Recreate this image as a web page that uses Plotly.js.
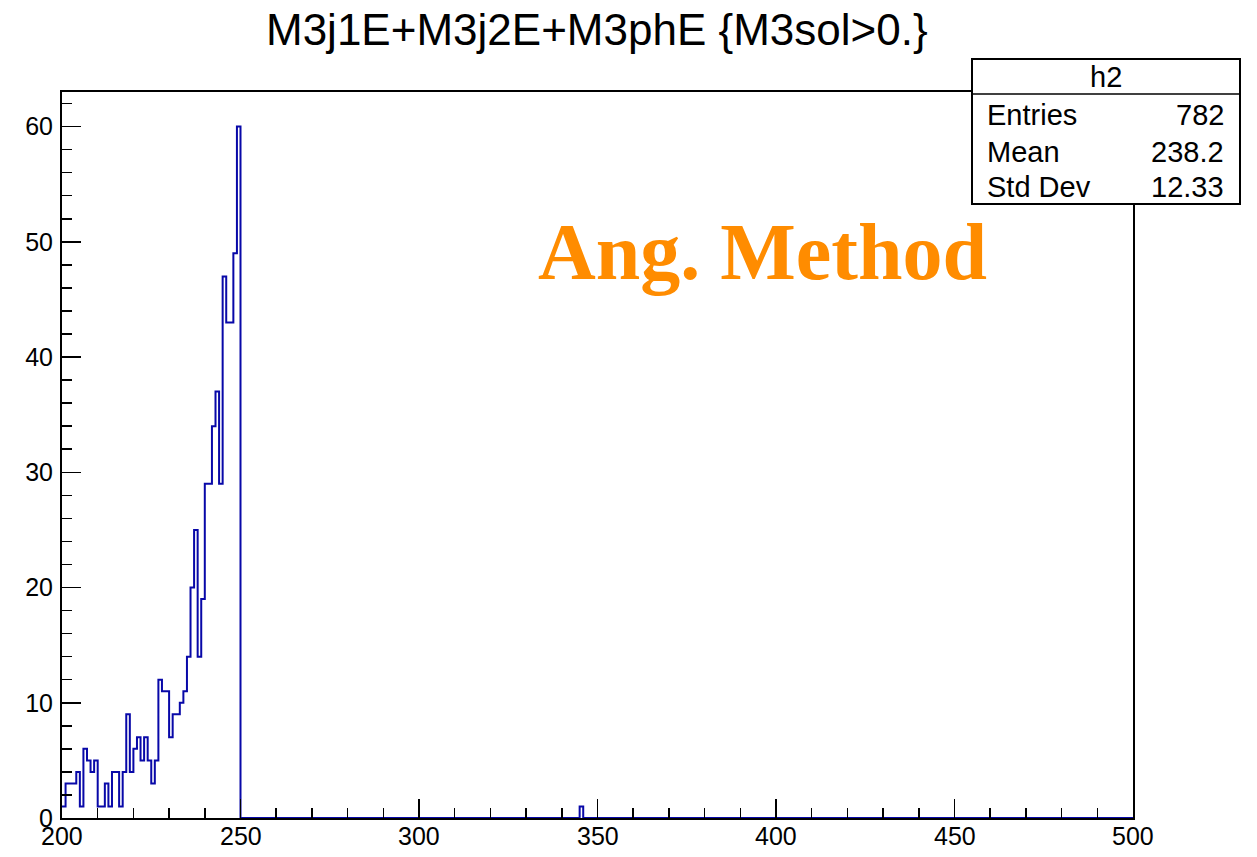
<!DOCTYPE html>
<html>
<head>
<meta charset="utf-8">
<script src="https://cdn.plot.ly/plotly-3.0.1.min.js"></script>
<style>html,body{margin:0;padding:0;background:#fff;}#chart{width:1257px;height:857px;}</style>
</head>
<body>
<div id="chart"></div>
<script>
// Histogram h2: 1-unit bins, x from 200 to 500
const binLow = 200;
const binHigh = 500;
// bin contents for bins starting at 200, 201, ..., 249
const counts200to249 = [
  1, 3, 3, 3, 4, 1, 6, 5, 4, 5,
  1, 1, 3, 1, 4, 4, 1, 4, 9, 4,
  6, 7, 5, 7, 5, 3, 5, 12, 11, 11,
  7, 9, 9, 10, 11, 14, 20, 25, 14, 19,
  29, 29, 34, 37, 29, 47, 43, 43, 49, 60
];
// isolated non-empty bins further right
const extraBinStarts = [345];
const extraBinCounts = [1];

const titleText = "M3j1E+M3j2E+M3phE {M3sol>0.}";
const statsName = "h2";
const statsLabels = ["Entries", "Mean", "Std Dev"];
const statsValues = ["782", "238.2", "12.33"];
const labelText = "Ang. Method";
const xTickValues = [200, 250, 300, 350, 400, 450, 500];

// build the step outline (bin edges + contents)
const nBins = binHigh - binLow;
const contents = new Array(nBins).fill(0);
counts200to249.forEach((c, i) => { contents[i] = c; });
extraBinStarts.forEach((s, i) => { contents[s - binLow] = extraBinCounts[i]; });
const edges = [];
const ys = [];
for (let i = 0; i <= nBins; i++) {
  edges.push(binLow + i);
  ys.push(i < nBins ? contents[i] : contents[nBins - 1]);
}

const trace = {
  type: 'scatter', mode: 'lines',
  x: edges, y: ys,
  line: {shape: 'hv', color: '#0808a8', width: 2},
  hoverinfo: 'skip'
};

const L = 62, R = 1133, T = 92, B = 818;
const W = 1257, H = 857;
const px = v => (v - L) / (R - L);
const py = v => (B - v) / (B - T);

const font = 'Liberation Sans, Arial, Helvetica, sans-serif';

const boxL = 972, boxR = 1240, boxT = 59, boxB = 204, boxSep = 94;

const annotations = [
  {text: titleText, xref: 'paper', yref: 'paper', x: px(597), y: py(30), xanchor: 'center', yanchor: 'middle', showarrow: false, font: {family: font, size: 44, color: '#000'}},
  {text: statsName, xref: 'paper', yref: 'paper', x: px((boxL + boxR) / 2), y: py(77), xanchor: 'center', yanchor: 'middle', showarrow: false, font: {family: font, size: 29, color: '#000'}},
  {text: '<b>' + labelText + '</b>', xref: 'paper', yref: 'paper', x: px(762), y: py(252), xanchor: 'center', yanchor: 'middle', showarrow: false, font: {family: 'Liberation Serif, Times New Roman, serif', size: 80, color: '#ff8c00'}}
];
const rowY = [115, 152, 187];
statsLabels.forEach((lab, i) => {
  annotations.push({text: lab, xref: 'paper', yref: 'paper', x: px(985), y: py(rowY[i]), xanchor: 'left', yanchor: 'middle', showarrow: false, font: {family: font, size: 29, color: '#000'}});
  annotations.push({text: statsValues[i], xref: 'paper', yref: 'paper', x: px(1226), y: py(rowY[i]), xanchor: 'right', yanchor: 'middle', showarrow: false, font: {family: font, size: 29, color: '#000'}});
});
// x tick labels placed via the x axis scale
xTickValues.forEach(v => {
  annotations.push({text: String(v), xref: 'x', yref: 'paper', x: v, y: py(836), xanchor: 'center', yanchor: 'middle', showarrow: false, font: {family: font, size: 25, color: '#000'}});
});

const shapes = [
  {type: 'rect', xref: 'paper', yref: 'paper', x0: px(boxL), x1: px(boxR), y0: py(boxB), y1: py(boxT), fillcolor: '#fff', line: {color: '#000', width: 2}, layer: 'above'},
  {type: 'line', xref: 'paper', yref: 'paper', x0: px(boxL), x1: px(boxR), y0: py(boxSep), y1: py(boxSep), line: {color: '#000', width: 1.5}, layer: 'above'}
];

const layout = {
  width: W, height: H, autosize: false,
  margin: {l: L, r: W - R, t: T, b: H - B, pad: 0},
  paper_bgcolor: '#fff', plot_bgcolor: '#fff',
  showlegend: false,
  xaxis: {
    range: [binLow, binHigh], tickmode: 'linear', tick0: 200, dtick: 50,
    ticks: 'inside', ticklen: 19, tickwidth: 1.5, tickcolor: '#000',
    minor: {dtick: 10, ticks: 'inside', ticklen: 10, tickwidth: 1.5, tickcolor: '#000', showgrid: false},
    showline: true, linecolor: '#000', linewidth: 2, mirror: true,
    showgrid: false, zeroline: false, showticklabels: false
  },
  yaxis: {
    range: [0, 63], tickmode: 'linear', tick0: 0, dtick: 10,
    ticks: 'inside', ticklen: 19, tickwidth: 1.5, tickcolor: '#000',
    minor: {dtick: 2, ticks: 'inside', ticklen: 10, tickwidth: 1.5, tickcolor: '#000', showgrid: false},
    showline: true, linecolor: '#000', linewidth: 2, mirror: true,
    showgrid: false, zeroline: false,
    tickfont: {family: font, size: 25, color: '#000'}, ticklabelstandoff: 2
  },
  annotations: annotations,
  shapes: shapes
};

Plotly.newPlot('chart', [trace], layout, {staticPlot: true, displayModeBar: false});
</script>
</body>
</html>
